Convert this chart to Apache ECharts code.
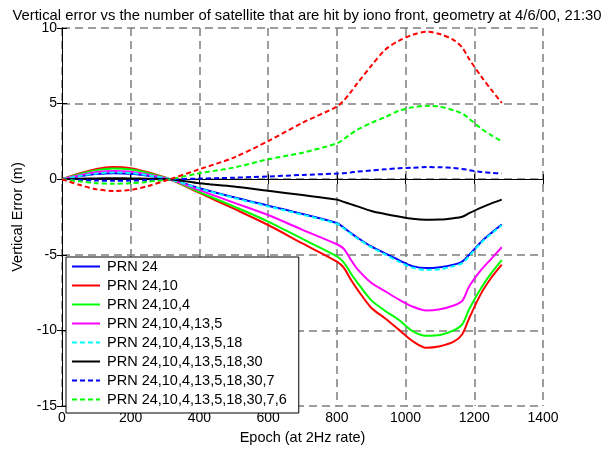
<!DOCTYPE html>
<html>
<head>
<meta charset="utf-8">
<script src="https://cdn.jsdelivr.net/npm/echarts@6/dist/echarts.min.js"></script>
<style>html,body{margin:0;padding:0;background:#fff;}#c{width:601px;height:450px;}</style>
</head>
<body>
<div id="c"></div>
<script>
var epochs = [0,50,100,150,200,250,314,400,500,600,700,800,820,840,860,900,940,980,1020,1060,1100,1140,1165,1185,1220,1250,1280];
var prn24      = [0,0.19,0.34,0.40,0.36,0.23,0,-0.60,-1.20,-1.75,-2.30,-2.90,-3.20,-3.55,-3.87,-4.45,-4.90,-5.35,-5.75,-5.88,-5.82,-5.65,-5.45,-5.00,-4.15,-3.55,-3.00];
var prn24_10   = [0,0.38,0.68,0.80,0.73,0.46,0,-0.90,-1.95,-3.03,-4.25,-5.45,-5.85,-6.62,-7.30,-8.50,-9.20,-9.95,-10.70,-11.15,-11.05,-10.75,-10.25,-9.20,-7.55,-6.50,-5.65];
var prn24_10_4 = [0,0.33,0.60,0.70,0.64,0.41,0,-0.85,-1.80,-2.80,-3.95,-5.10,-5.50,-6.20,-6.85,-8.00,-8.70,-9.30,-10.05,-10.35,-10.30,-10.00,-9.60,-8.60,-7.20,-6.20,-5.35];
var prn5       = [0,0.26,0.47,0.55,0.50,0.32,0,-0.72,-1.55,-2.37,-3.35,-4.30,-4.60,-5.30,-5.95,-6.85,-7.40,-7.95,-8.42,-8.68,-8.60,-8.35,-8.05,-7.10,-6.00,-5.25,-4.50];
var prn6       = [0,0.21,0.38,0.45,0.41,0.26,0,-0.62,-1.23,-1.80,-2.35,-2.95,-3.25,-3.60,-3.92,-4.50,-4.97,-5.45,-5.85,-6.00,-5.95,-5.75,-5.55,-5.08,-4.20,-3.60,-3.05];
var prn7       = [0,0.03,0.05,0.06,0.05,0.03,0,-0.27,-0.48,-0.77,-1.05,-1.35,-1.50,-1.65,-1.80,-2.10,-2.30,-2.47,-2.62,-2.68,-2.67,-2.58,-2.48,-2.25,-1.88,-1.60,-1.35];
var prn8       = [0,-0.05,-0.09,-0.10,-0.09,-0.06,0,0.04,0.10,0.18,0.28,0.37,0.40,0.44,0.50,0.58,0.65,0.72,0.76,0.80,0.79,0.74,0.68,0.60,0.48,0.42,0.37];
var prn9       = [0,-0.14,-0.26,-0.30,-0.27,-0.17,0,0.39,0.77,1.32,1.75,2.37,2.65,2.98,3.28,3.72,4.10,4.52,4.75,4.85,4.80,4.55,4.35,4.00,3.35,2.90,2.50];
var prn10      = [0,-0.37,-0.66,-0.78,-0.71,-0.45,0,0.66,1.43,2.52,3.73,4.80,5.20,5.75,6.35,7.50,8.55,9.15,9.55,9.75,9.60,9.20,8.70,7.95,6.80,5.90,5.05];

var names = ['PRN 24','PRN 24,10','PRN 24,10,4','PRN 24,10,4,13,5','PRN 24,10,4,13,5,18','PRN 24,10,4,13,5,18,30','PRN 24,10,4,13,5,18,30,7','PRN 24,10,4,13,5,18,30,7,6','PRN 24,10,4,13,5,18,30,7,6,+'];
var values = [prn24, prn24_10, prn24_10_4, prn5, prn6, prn7, prn8, prn9, prn10];
var colors = ['#0000ff','#ff0000','#00ff00','#ff00ff','#00ffff','#000000','#0000ff','#00ff00','#ff0000'];
var dashed = [false,false,false,false,true,false,true,true,true];
var xTicks = [0,200,400,600,800,1000,1200,1400];
var yTicks = [-15,-10,-5,0,5,10];

var FONT = 'Liberation Sans, Arial, sans-serif';
var series = values.map(function(v, i){
  return {
    name: names[i], type: 'line', symbol: 'none', smooth: 0.3,
    data: epochs.map(function(e, k){ return [e, v[k]]; }),
    lineStyle: { color: colors[i], width: 2, type: dashed[i] ? [5,3] : 'solid' },
    itemStyle: { color: colors[i] },
    z: 3, animation: false
  };
});

var gridLine = { show: true, lineStyle: { color: '#7f7f7f', width: 1.5, type: [8,5] } };
var chart = echarts.init(document.getElementById('c'), null, { renderer: 'canvas' });
chart.setOption({
  animation: false,
  backgroundColor: '#fff',
  title: { text: 'Vertical error vs the number of satellite that are hit by iono front, geometry at 4/6/00, 21:30',
    left: 302, textAlign: 'center', top: 3,
    textStyle: { fontFamily: FONT, fontSize: 14.8, fontWeight: 'normal', color: '#000' } },
  grid: { left: 62, right: 58, top: 28, bottom: 42, containLabel: false },
  legend: {
    data: names.slice(0, 8), orient: 'vertical', left: 66, top: 257,
    itemWidth: 28, itemHeight: 14, itemGap: 4,
    padding: [2, 12, 6, 5],
    itemStyle: { opacity: 0 },
    backgroundColor: '#fff', borderColor: '#000', borderWidth: 1,
    textStyle: { fontFamily: FONT, fontSize: 14.5, lineHeight: 14, color: '#000', padding: [0,0,0,2] }
  },
  xAxis: [{
    type: 'value', min: 0, max: 1400, interval: 200, position: 'bottom',
    name: 'Epoch (at 2Hz rate)', nameLocation: 'middle', nameGap: 24,
    nameTextStyle: { fontFamily: FONT, fontSize: 14.5, color: '#000' },
    axisLine: { show: true, lineStyle: { color: '#000', width: 1 } },
    axisTick: { show: true, inside: true, length: 5, lineStyle: { color: '#000' } },
    axisLabel: { fontFamily: FONT, fontSize: 14, color: '#000', margin: 5,
      formatter: function(v){ return xTicks.indexOf(v) >= 0 ? String(v) : ''; } },
    splitLine: gridLine
  }, {
    type: 'value', min: 0, max: 1400, interval: 200, position: 'top',
    axisLine: { show: true, lineStyle: { color: '#000', width: 1 } },
    axisTick: { show: true, inside: true, length: 5, lineStyle: { color: '#000' } },
    axisLabel: { show: false }, splitLine: { show: false }
  }],
  yAxis: [{
    type: 'value', min: -15, max: 10, interval: 5, position: 'left',
    name: 'Vertical Error (m)', nameLocation: 'middle', nameGap: 32, nameRotate: 90,
    nameTextStyle: { fontFamily: FONT, fontSize: 14.5, color: '#000' },
    axisLine: { show: true, lineStyle: { color: '#000', width: 1 } },
    axisTick: { show: true, inside: true, length: 5, lineStyle: { color: '#000' } },
    axisLabel: { fontFamily: FONT, fontSize: 14, color: '#000', margin: 5,
      formatter: function(v){ return yTicks.indexOf(v) >= 0 ? String(v) : ''; } },
    splitLine: gridLine
  }, {
    type: 'value', min: -15, max: 10, interval: 5, position: 'right',
    axisLine: { show: true, lineStyle: { color: '#000', width: 1 } },
    axisTick: { show: true, inside: true, length: 5, lineStyle: { color: '#000' } },
    axisLabel: { show: false }, splitLine: { show: false }
  }],
  series: series
});
</script>
</body>
</html>
